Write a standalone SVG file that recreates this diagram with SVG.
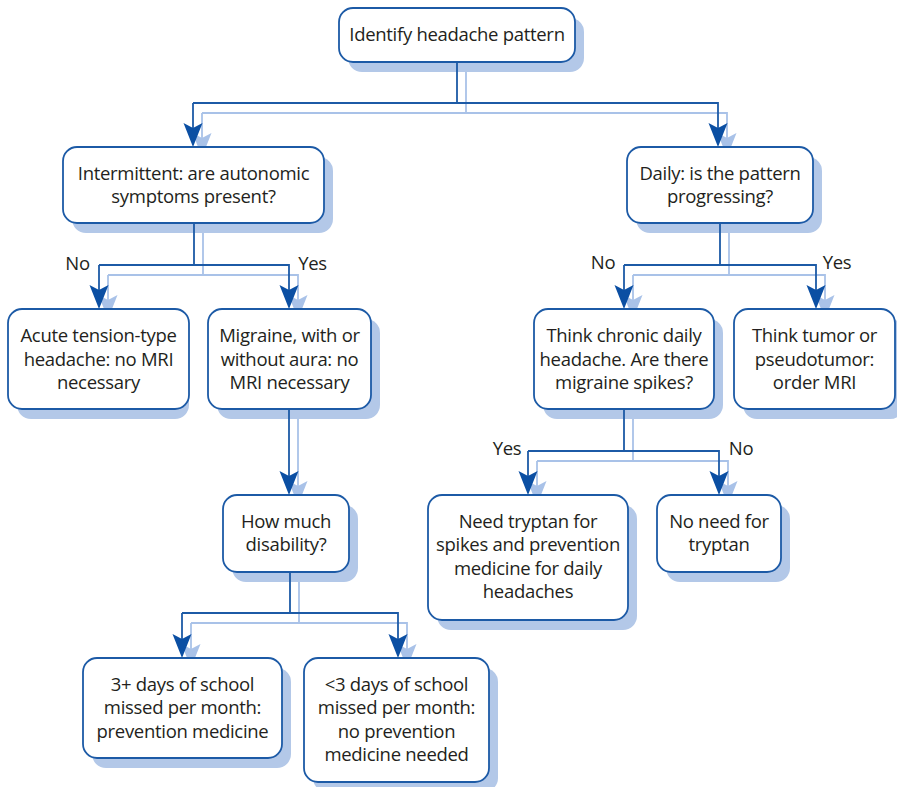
<svg xmlns="http://www.w3.org/2000/svg" width="897" height="787" viewBox="0 0 897 787">
  <defs>
    <style>
      .box { fill: #ffffff; stroke: #1c5aa6; stroke-width: 1.8; }
      .shadow { fill: #b3c8e8; }
      .txt { font-family: "Open Sans", "Noto Sans", sans-serif; font-size: 18.5px; letter-spacing: -0.3px; fill: #231f20; text-anchor: middle; }
      .link { fill: none; stroke: #1c5aa6; stroke-width: 1.8; }
      .link-arrow { marker-end: url(#arrow); }
      .link-sh { fill: none; stroke: #a9c2e8; stroke-width: 1.8; }
      .link-sh-arrow { marker-end: url(#arrow-sh); }
    </style>
    <marker id="arrow" viewBox="-25 -11 26 22" refX="-14" refY="0" markerWidth="26" markerHeight="22" markerUnits="userSpaceOnUse" orient="auto">
      <path d="M0,0 L-24,-9.5 L-19,0 L-24,9.5 Z" fill="#0b4fa3"/>
    </marker>
    <marker id="arrow-sh" viewBox="-25 -11 26 22" refX="-14" refY="0" markerWidth="26" markerHeight="22" markerUnits="userSpaceOnUse" orient="auto">
      <path d="M0,0 L-24,-9.5 L-19,0 L-24,9.5 Z" fill="#a9c2e8"/>
    </marker>
  </defs>

  <rect width="897" height="787" fill="#ffffff"/>

  <!-- connector shadows, offset below and right -->
  <g id="connector-shadows" transform="translate(9,10)">
    <path class="link-sh" d="M457,62 V103 H193"/>
    <path class="link-sh link-sh-arrow" d="M193,103 V133"/>
    <path class="link-sh link-sh-arrow" d="M457,103 H718 V133"/>
    <path class="link-sh" d="M194,223 V265 H99"/>
    <path class="link-sh link-sh-arrow" d="M99,265 V295"/>
    <path class="link-sh link-sh-arrow" d="M194,265 H289 V295"/>
    <path class="link-sh" d="M720,223 V265 H624"/>
    <path class="link-sh link-sh-arrow" d="M624,265 V295"/>
    <path class="link-sh link-sh-arrow" d="M720,265 H816 V295"/>
    <path class="link-sh link-sh-arrow" d="M289,409 V481"/>
    <path class="link-sh" d="M624,409 V451 H528"/>
    <path class="link-sh link-sh-arrow" d="M528,451 V481"/>
    <path class="link-sh link-sh-arrow" d="M624,451 H719 V481"/>
    <path class="link-sh" d="M290,572 V613 H182"/>
    <path class="link-sh link-sh-arrow" d="M182,613 V644"/>
    <path class="link-sh link-sh-arrow" d="M290,613 H398 V644"/>
  </g>

  <!-- nodes -->
  <g id="identify">
    <rect class="shadow" x="348" y="18" width="236" height="54" rx="14"/>
    <rect class="box" x="339" y="8" width="236" height="54" rx="14"/>
    <text class="txt" x="457" y="41">Identify headache pattern</text>
  </g>

  <g id="intermittent">
    <rect class="shadow" x="72" y="157" width="261" height="76" rx="14"/>
    <rect class="box" x="63" y="147" width="261" height="76" rx="14"/>
    <text class="txt" x="193.5" y="179.75">Intermittent: are autonomic</text>
    <text class="txt" x="193.5" y="203.25">symptoms present?</text>
  </g>

  <g id="daily">
    <rect class="shadow" x="636" y="157" width="186" height="76" rx="14"/>
    <rect class="box" x="627" y="147" width="186" height="76" rx="14"/>
    <text class="txt" x="720" y="179.75">Daily: is the pattern</text>
    <text class="txt" x="720" y="203.25">progressing?</text>
  </g>

  <g id="tension">
    <rect class="shadow" x="17" y="319" width="172" height="100" rx="14"/>
    <rect class="box" x="8" y="309" width="181" height="100" rx="14"/>
    <text class="txt" x="98.5" y="342">Acute tension-type</text>
    <text class="txt" x="98.5" y="365.5">headache: no MRI</text>
    <text class="txt" x="98.5" y="389">necessary</text>
  </g>

  <g id="migraine">
    <rect class="shadow" x="217" y="319" width="163" height="100" rx="14"/>
    <rect class="box" x="208" y="309" width="163" height="100" rx="14"/>
    <text class="txt" x="289.5" y="342">Migraine, with or</text>
    <text class="txt" x="289.5" y="365.5">without aura: no</text>
    <text class="txt" x="289.5" y="389">MRI necessary</text>
  </g>

  <g id="chronic">
    <rect class="shadow" x="543" y="319" width="180" height="100" rx="14"/>
    <rect class="box" x="534" y="309" width="180" height="100" rx="14"/>
    <text class="txt" x="624" y="342">Think chronic daily</text>
    <text class="txt" x="624" y="365.5">headache. Are there</text>
    <text class="txt" x="624" y="389">migraine spikes?</text>
  </g>

  <g id="tumor">
    <rect class="shadow" x="743" y="319" width="161" height="100" rx="14"/>
    <rect class="box" x="734" y="309" width="161" height="100" rx="14"/>
    <text class="txt" x="814.5" y="342">Think tumor or</text>
    <text class="txt" x="814.5" y="365.5">pseudotumor:</text>
    <text class="txt" x="814.5" y="389">order MRI</text>
  </g>

  <g id="disability">
    <rect class="shadow" x="232" y="505" width="126" height="77" rx="14"/>
    <rect class="box" x="223" y="495" width="126" height="77" rx="14"/>
    <text class="txt" x="286" y="527.5">How much</text>
    <text class="txt" x="286" y="551">disability?</text>
  </g>

  <g id="tryptan-prevention">
    <rect class="shadow" x="437" y="505" width="200" height="125" rx="14"/>
    <rect class="box" x="428" y="495" width="200" height="125" rx="14"/>
    <text class="txt" x="528" y="527.5">Need tryptan for</text>
    <text class="txt" x="528" y="551">spikes and prevention</text>
    <text class="txt" x="528" y="574.5">medicine for daily</text>
    <text class="txt" x="528" y="598">headaches</text>
  </g>

  <g id="no-tryptan">
    <rect class="shadow" x="666" y="505" width="124" height="77" rx="14"/>
    <rect class="box" x="657" y="495" width="124" height="77" rx="14"/>
    <text class="txt" x="719" y="527.5">No need for</text>
    <text class="txt" x="719" y="551">tryptan</text>
  </g>

  <g id="prevention">
    <rect class="shadow" x="92" y="668" width="199" height="100" rx="14"/>
    <rect class="box" x="83" y="658" width="199" height="100" rx="14"/>
    <text class="txt" x="182.5" y="690.5">3+ days of school</text>
    <text class="txt" x="182.5" y="714">missed per month:</text>
    <text class="txt" x="182.5" y="737.5">prevention medicine</text>
  </g>

  <g id="no-prevention">
    <rect class="shadow" x="313" y="668" width="185" height="124" rx="14"/>
    <rect class="box" x="304" y="658" width="185" height="124" rx="14"/>
    <text class="txt" x="396.5" y="690.5">&lt;3 days of school</text>
    <text class="txt" x="396.5" y="714">missed per month:</text>
    <text class="txt" x="396.5" y="737.5">no prevention</text>
    <text class="txt" x="396.5" y="761">medicine needed</text>
  </g>

  <!-- connectors -->
  <g id="connectors">
    <path class="link" d="M457,62 V103 H193"/>
    <path class="link link-arrow" d="M193,103 V133"/>
    <path class="link link-arrow" d="M457,103 H718 V133"/>
    <path class="link" d="M194,223 V265 H99"/>
    <path class="link link-arrow" d="M99,265 V295"/>
    <path class="link link-arrow" d="M194,265 H289 V295"/>
    <path class="link" d="M720,223 V265 H624"/>
    <path class="link link-arrow" d="M624,265 V295"/>
    <path class="link link-arrow" d="M720,265 H816 V295"/>
    <path class="link link-arrow" d="M289,409 V481"/>
    <path class="link" d="M624,409 V451 H528"/>
    <path class="link link-arrow" d="M528,451 V481"/>
    <path class="link link-arrow" d="M624,451 H719 V481"/>
    <path class="link" d="M290,572 V613 H182"/>
    <path class="link link-arrow" d="M182,613 V644"/>
    <path class="link link-arrow" d="M290,613 H398 V644"/>
  </g>

  <!-- branch labels -->
  <g id="labels">
    <text class="txt" x="77.5" y="270">No</text>
    <text class="txt" x="312.5" y="270">Yes</text>
    <text class="txt" x="603" y="269">No</text>
    <text class="txt" x="837" y="269">Yes</text>
    <text class="txt" x="507" y="455">Yes</text>
    <text class="txt" x="741" y="455">No</text>
  </g>
</svg>
